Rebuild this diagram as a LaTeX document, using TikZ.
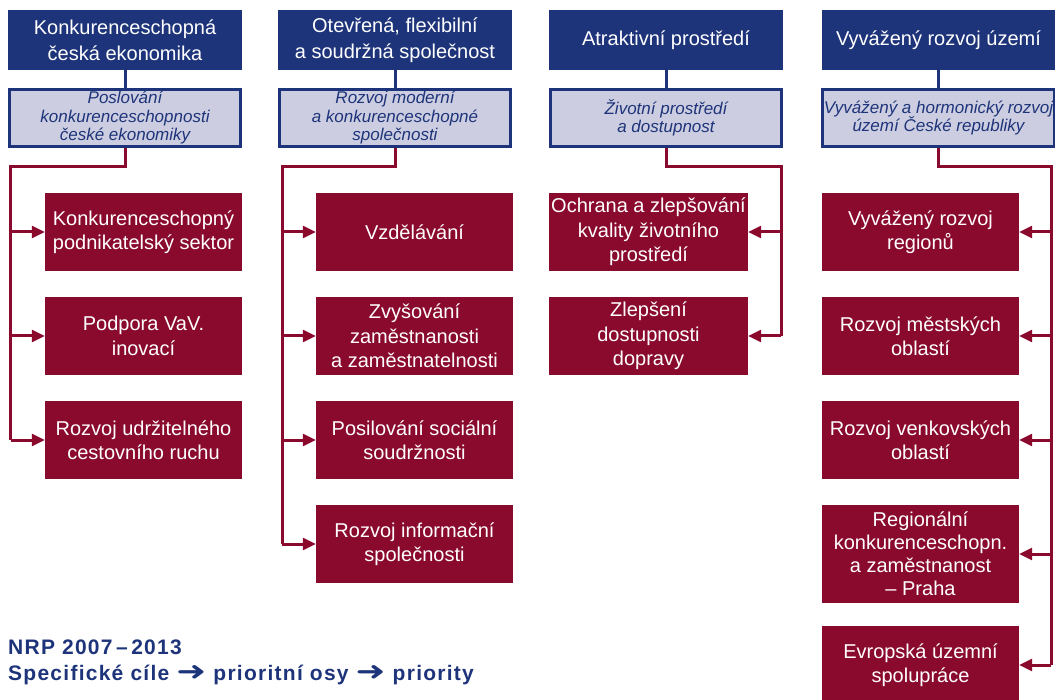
\documentclass[tikz,border=0pt]{standalone}
\usepackage{fontspec}
\setmainfont{Liberation Sans}
\newfontfamily\dvfont{DejaVu Sans}
\usetikzlibrary{arrows.meta}

\definecolor{navy}{RGB}{30,52,122}
\definecolor{lightnavy}{RGB}{204,205,224}
\definecolor{wine}{RGB}{138,10,46}
\newcommand{\tlustasipka}{\raisebox{0.5pt}{\scalebox{1.7}[1.25]{\dvfont\bfseries ➜}}}

\begin{document}
\begin{tikzpicture}[x=1pt,y=1pt,yscale=-1,
  cil/.style={rectangle,fill=navy,text=white,minimum width=234,minimum height=60,inner sep=2,align=center,font=\fontsize{20}{26}\selectfont},
  osa/.style={rectangle,fill=lightnavy,draw=navy,line width=3,text=navy,minimum width=231,minimum height=57,inner sep=1,align=center,font=\fontsize{17}{18.5}\selectfont\itshape},
  priorita/.style={rectangle,fill=wine,text=white,minimum width=197,minimum height=78,inner sep=2,align=center,font=\fontsize{20}{24.5}\selectfont},
  modra/.style={draw=navy,line width=3},
  cervena/.style={draw=wine,line width=3},
  sipka/.style={cervena,-{Triangle[length=13,width=12]}}]
\useasboundingbox (0,0) rectangle (1055,700);
% specificke cile
\node[cil] (c1) at (125,40) {Konkurenceschopná\\česká ekonomika};
\node[cil] (c2) at (395,40) {Otevřená, flexibilní\\a soudržná společnost};
\node[cil] (c3) at (666,40) {Atraktivní prostředí};
\node[cil,minimum width=233] (c4) at (938.5,40) {Vyvážený rozvoj území};
% prioritni osy
\node[osa] (o1) at (125,118) {Poslování\\konkurenceschopnosti\\české ekonomiky};
\node[osa] (o2) at (395,118) {Rozvoj moderní\\a konkurenceschopné\\společnosti};
\node[osa] (o3) at (666,118) {Životní prostředí\\a dostupnost};
\node[osa,minimum width=230] (o4) at (938.5,118) {Vyvážený a hormonický rozvoj\\území České republiky};
% priority
\node[priorita] (p11) at (143.5,232) {Konkurenceschopný\\podnikatelský sektor};
\node[priorita] (p12) at (143.5,336) {Podpora VaV.\\inovací};
\node[priorita] (p13) at (143.5,440) {Rozvoj udržitelného\\cestovního ruchu};
\node[priorita] (p21) at (414.5,232) {Vzdělávání};
\node[priorita] (p22) at (414.5,336) {Zvyšování\\zaměstnanosti\\a zaměstnatelnosti};
\node[priorita] (p23) at (414.5,440) {Posilování sociální\\soudržnosti};
\node[priorita] (p24) at (414.5,544) {Rozvoj informační\\společnosti};
\node[priorita,minimum width=199] (p31) at (648.5,232) {Ochrana a zlepšování\\kvality životního\\prostředí};
\node[priorita,minimum width=199] (p32) at (648.5,336) {Zlepšení\\dostupnosti\\dopravy};
\node[priorita] (p41) at (920.5,232) {Vyvážený rozvoj\\regionů};
\node[priorita] (p42) at (920.5,336) {Rozvoj městských\\oblastí};
\node[priorita] (p43) at (920.5,440) {Rozvoj venkovských\\oblastí};
\node[priorita,minimum height=98,font=\fontsize{20}{23}\selectfont] (p44) at (920.5,554) {Regionální\\konkurenceschopn.\\a zaměstnanost\\– Praha};
\node[priorita] (p45) at (920.5,665) {Evropská územní\\spolupráce};
% vetve
\coordinate (v1) at (10.5,167);
\coordinate (v2) at (282,167);
\coordinate (v3) at (781,167);
\coordinate (v4) at (1051,167);
\foreach \i in {1,...,4}
  \draw[modra] (c\i.south) -- (o\i.north);
\draw[cervena] (o1.south) |- (v1) -- (v1 |- p13.west);
\draw[cervena] (o2.south) |- (v2) -- (v2 |- p24.west);
\draw[cervena] (o3.south) |- (v3) -- (v3 |- p32.east);
\draw[cervena] (o4.south) |- (v4) -- (v4 |- p45.east);
\foreach \j in {1,2,3}
  \draw[sipka] (v1 |- p1\j.west) -- (p1\j.west);
\foreach \j in {1,...,4}
  \draw[sipka] (v2 |- p2\j.west) -- (p2\j.west);
\foreach \j in {1,2}
  \draw[sipka] (v3 |- p3\j.east) -- (p3\j.east);
\foreach \j in {1,...,5}
  \draw[sipka] (v4 |- p4\j.east) -- (p4\j.east);
% popisek
\node[anchor=north west,inner sep=0,align=left,text=navy,font=\fontsize{21}{26}\selectfont\bfseries\addfontfeature{LetterSpace=6}] (nrp) at (8,640)
  {NRP 2007\,–\,2013\\Specifické cíle \tlustasipka{} prioritní osy \tlustasipka{} priority};
\end{tikzpicture}
\end{document}
